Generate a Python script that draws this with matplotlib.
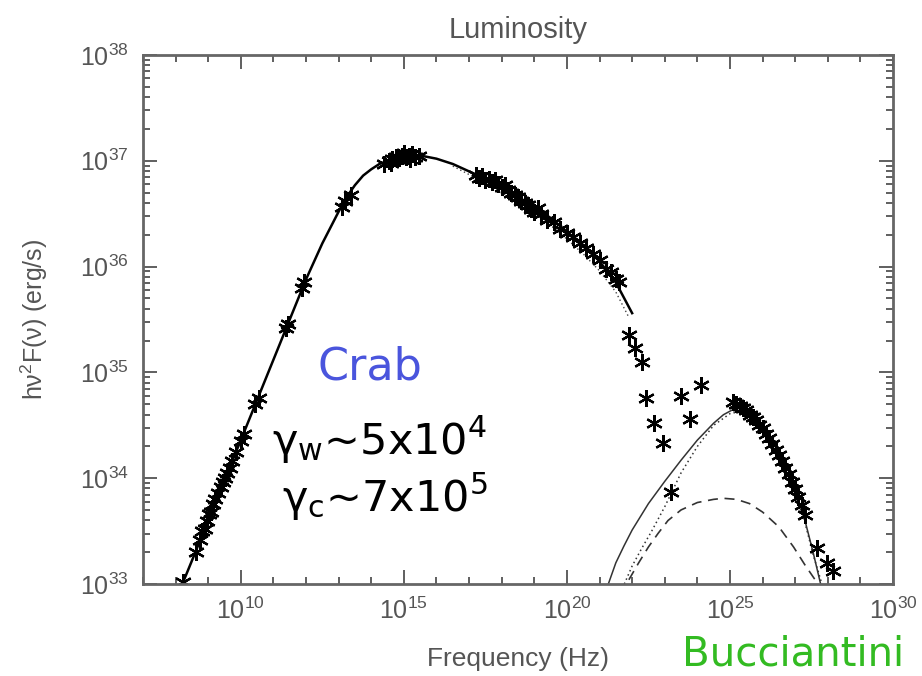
import numpy as np
import matplotlib
matplotlib.use("Agg")
import matplotlib.pyplot as plt
from matplotlib.ticker import FixedLocator, LogLocator, NullFormatter

plt.rcParams['font.family'] = ['Liberation Sans', 'DejaVu Sans']
plt.rcParams['mathtext.default'] = 'regular'

# ---- synchrotron model (log10 frequency [Hz], log10 luminosity [erg/s]) ----
sync_lognu = [8.1, 8.5, 9.0, 9.5, 10.0, 10.5, 11.0, 11.5, 12.0, 12.5, 13.0, 13.25,
              13.5, 13.75, 14.0, 14.25, 14.5, 15.0, 15.5, 16.0, 16.5, 17.0, 17.5,
              18.0, 18.5, 19.0, 19.5, 20.0, 20.5, 21.0, 21.5, 22.0]
sync_logL = [32.92, 33.22, 33.60, 33.98, 34.36, 34.74, 35.12, 35.50, 35.88, 36.22,
             36.52, 36.66, 36.77, 36.86, 36.92, 36.97, 37.00, 37.04, 37.05, 37.02,
             36.97, 36.90, 36.83, 36.74, 36.65, 36.56, 36.46, 36.33, 36.20, 36.05,
             35.85, 35.56]

# second synchrotron model (dotted), high-energy branch only
sync2_lognu = [16.5, 17.0, 17.5, 18.0, 18.5, 19.0, 19.5, 20.0, 20.5, 21.0, 21.5, 21.9]
sync2_logL = [36.95, 36.87, 36.79, 36.70, 36.60, 36.50, 36.39, 36.26, 36.12, 35.96,
              35.76, 35.52]

# ---- inverse Compton models ----
ic_total_lognu = [21.27, 21.5, 21.75, 22.0, 22.5, 23.0, 23.5, 24.0, 24.5, 24.8, 25.1,
                  25.3, 25.6, 26.0, 26.5, 27.0, 27.3, 27.55, 27.78]
ic_total_logL = [33.00, 33.20, 33.36, 33.51, 33.76, 33.97, 34.17, 34.36, 34.52, 34.60,
                 34.65, 34.66, 34.60, 34.46, 34.20, 33.88, 33.60, 33.30, 33.00]

ic_sync_lognu = [21.76, 22.0, 22.3, 22.6, 23.0, 23.5, 24.0, 24.5, 25.0, 25.3, 25.6,
                 26.0, 26.5, 27.0, 27.3, 27.55, 27.82]
ic_sync_logL = [33.00, 33.17, 33.34, 33.50, 33.73, 34.05, 34.30, 34.50, 34.61, 34.63,
                34.58, 34.45, 34.18, 33.85, 33.58, 33.28, 33.00]

ic_cmb_lognu = [21.9, 22.2, 22.5, 22.8, 23.1, 23.5, 24.0, 24.5, 24.8, 25.2, 25.6,
                26.0, 26.5, 26.95, 27.3, 27.7]
ic_cmb_logL = [33.04, 33.20, 33.35, 33.48, 33.60, 33.70, 33.77, 33.80, 33.81, 33.80,
               33.76, 33.68, 33.54, 33.35, 33.18, 33.00]

# ---- observed points ----
obs_lognu = [8.23, 8.62, 8.75, 8.82, 8.90, 8.95, 9.02, 9.08, 9.15, 9.22, 9.30, 9.38,
             9.45, 9.50, 9.58, 9.66, 9.72, 9.85, 10.00, 10.10, 10.45, 10.55,
             11.40, 11.45, 11.88, 11.93, 13.10, 13.20, 13.38,
             14.40, 14.55, 14.60, 14.65, 14.75, 14.85, 14.95, 15.00, 15.05, 15.15,
             15.20, 15.25, 15.35, 15.45,
             17.20, 17.30, 17.40, 17.50, 17.60, 17.70, 17.80, 17.90, 18.00, 18.10,
             18.20, 18.30, 18.40, 18.50, 18.60, 18.70, 18.80, 18.90, 19.00, 19.10,
             19.20, 19.40, 19.60, 19.80, 20.00, 20.20, 20.40, 20.60, 20.80, 21.00,
             21.20, 21.35, 21.50, 21.60,
             21.90, 22.10, 22.30, 22.43, 22.67, 22.95, 23.50, 23.77, 24.10, 23.19,
             25.10, 25.20, 25.30, 25.40, 25.50, 25.60, 25.70, 25.80, 25.90, 26.00,
             26.10, 26.20, 26.30, 26.40, 26.50, 26.60, 26.70, 26.80, 26.90, 27.00,
             27.10, 27.20, 27.30, 27.68, 27.98, 28.17]
obs_logL = [33.02, 33.30, 33.42, 33.50, 33.52, 33.60, 33.66, 33.68, 33.76, 33.80,
            33.86, 33.92, 33.96, 34.00, 34.05, 34.10, 34.16, 34.25, 34.35, 34.42,
            34.70, 34.76,
            35.42, 35.46, 35.80, 35.85, 36.56, 36.62, 36.68,
            36.97, 37.00, 36.98, 37.02, 37.04, 37.03, 37.05, 37.07, 37.04, 37.05,
            37.02, 37.06, 37.04, 37.05,
            36.87, 36.84, 36.86, 36.82, 36.83, 36.80, 36.82, 36.78, 36.75, 36.77,
            36.72, 36.70, 36.68, 36.66, 36.62, 36.60, 36.58, 36.54, 36.52, 36.55,
            36.50, 36.44, 36.42, 36.36, 36.32, 36.28, 36.22, 36.18, 36.12, 36.06,
            35.98, 35.95, 35.88, 35.85,
            35.35, 35.23, 35.10, 34.76, 34.52, 34.33, 34.78, 34.56, 34.88, 33.87,
            34.72, 34.70, 34.68, 34.66, 34.64, 34.60, 34.58, 34.55, 34.50, 34.47,
            34.42, 34.38, 34.32, 34.27, 34.22, 34.16, 34.10, 34.04, 33.96, 33.90,
            33.82, 33.75, 33.65, 33.34, 33.20, 33.12]

x_tick_exps = [10, 15, 20, 25, 30]
y_tick_exps = [33, 34, 35, 36, 37, 38]

TXT = '#555555'

fig = plt.figure(figsize=(9.22, 6.76), dpi=100)
ax = fig.add_axes([143 / 922, 1 - 584 / 676, (893 - 143) / 922, (584 - 55) / 676])

p = lambda v: 10.0 ** np.asarray(v)

ax.plot(p(sync_lognu), p(sync_logL), color='black', lw=1.8)
ax.plot(p(sync2_lognu), p(sync2_logL), color='#444444', lw=1.0, ls=(0, (1, 2)))
ax.plot(p(ic_total_lognu), p(ic_total_logL), color='#333333', lw=1.1)
ax.plot(p(ic_sync_lognu), p(ic_sync_logL), color='#333333', lw=1.1, ls=(0, (1, 2)))
ax.plot(p(ic_cmb_lognu), p(ic_cmb_logL), color='#333333', lw=1.2, ls=(0, (6, 4)))
ax.plot(p(obs_lognu), p(obs_logL), ls='none', marker=(6, 2, 0), ms=12,
        mec='black', mew=1.6, color='black')

ax.set_xscale('log')
ax.set_yscale('log')
ax.set_xlim(1e7, 1e30)
ax.set_ylim(1e33, 1e38)

ax.xaxis.set_major_locator(FixedLocator([10.0 ** e for e in x_tick_exps]))
ax.xaxis.set_minor_locator(FixedLocator([10.0 ** e for e in range(7, 31)]))
ax.xaxis.set_minor_formatter(NullFormatter())
ax.set_xticklabels([r'$10^{%d}$' % e for e in x_tick_exps])

ax.yaxis.set_major_locator(FixedLocator([10.0 ** e for e in y_tick_exps]))
ax.yaxis.set_minor_locator(LogLocator(base=10, subs=np.arange(2, 10), numticks=50))
ax.yaxis.set_minor_formatter(NullFormatter())
ax.set_yticklabels([r'$10^{%d}$' % e for e in y_tick_exps])

ax.tick_params(which='both', direction='in', top=True, right=True, colors='#444444',
               labelcolor=TXT, labelsize=18, width=1.2)
ax.tick_params(which='major', length=10, pad=10)
ax.tick_params(which='minor', length=5)
for s in ax.spines.values():
    s.set_color('#666666')
    s.set_linewidth(2.0)

ax.set_title('Luminosity', fontsize=21, color=TXT, pad=12)
ax.set_xlabel('Frequency (Hz)', fontsize=19, color=TXT, labelpad=16)
ax.set_ylabel(r'h$\nu^2$F($\nu$) (erg/s)', fontsize=18, color=TXT, labelpad=22)

# annotations
fig.text(370 / 922, 1 - 367 / 676, 'Crab', fontsize=32, color='#4a55dd',
         ha='center', va='center', family='DejaVu Sans')
fig.text(380 / 922, 1 - 440 / 676, r'$\gamma_{\rm w}$~5x10$^4$', fontsize=31,
         color='black', ha='center', va='center', family='DejaVu Sans')
fig.text(385 / 922, 1 - 497 / 676, r'$\gamma_{\rm c}$~7x10$^5$', fontsize=31,
         color='black', ha='center', va='center', family='DejaVu Sans')
fig.text(682 / 922, 2 / 676, 'Bucciantini', fontsize=29, color='#33bb22',
         ha='left', va='bottom', family='DejaVu Sans')

fig.savefig('out.png', dpi=100)
